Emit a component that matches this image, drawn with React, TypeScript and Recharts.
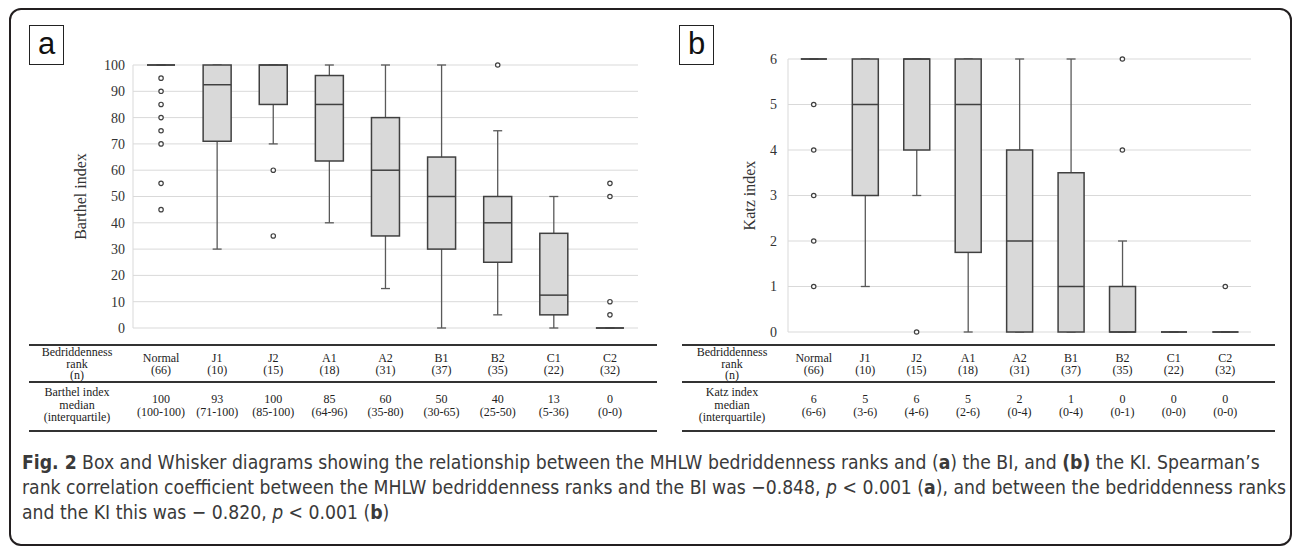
import { ComposedChart, Bar, Scatter, XAxis, YAxis, CartesianGrid } from "recharts";

const categories = ["Normal", "J1", "J2", "A1", "A2", "B1", "B2", "C1", "C2"];
const groupSizes = [66, 10, 15, 18, 31, 37, 35, 22, 32];

// Barthel index (panel a)
const biTicks = [0, 10, 20, 30, 40, 50, 60, 70, 80, 90, 100];
const biMin = [100, 30, 70, 40, 15, 0, 5, 0, 0];
const biQ1 = [100, 71, 85, 63.5, 35, 30, 25, 5, 0];
const biMedian = [100, 92.5, 100, 85, 60, 50, 40, 12.5, 0];
const biQ3 = [100, 100, 100, 96, 80, 65, 50, 36, 0];
const biMax = [100, 100, 100, 100, 100, 100, 75, 50, 0];
const biOutliers = [[95, 90, 85, 80, 75, 70, 55, 45], [], [60, 35], [], [], [], [100], [], [55, 50, 10, 5]];
const biMedianLabels = ["100", "93", "100", "85", "60", "50", "40", "13", "0"];
const biIqrLabels = ["100-100", "71-100", "85-100", "64-96", "35-80", "30-65", "25-50", "5-36", "0-0"];

// Katz index (panel b)
const kiTicks = [0, 1, 2, 3, 4, 5, 6];
const kiMin = [6, 1, 3, 0, 0, 0, 0, 0, 0];
const kiQ1 = [6, 3, 4, 1.75, 0, 0, 0, 0, 0];
const kiMedian = [6, 5, 6, 5, 2, 1, 0, 0, 0];
const kiQ3 = [6, 6, 6, 6, 4, 3.5, 1, 0, 0];
const kiMax = [6, 6, 6, 6, 6, 6, 2, 0, 0];
const kiOutliers = [[5, 4, 3, 2, 1], [], [0], [], [], [], [6, 4], [], [1]];
const kiMedianLabels = ["6", "5", "6", "5", "2", "1", "0", "0", "0"];
const kiIqrLabels = ["6-6", "3-6", "4-6", "2-6", "0-4", "0-4", "0-1", "0-0", "0-0"];

const SERIF = '"Liberation Serif", "Times New Roman", serif';
const GRID = "#d9d9d9";

const buildRows = (
  min: number[], q1: number[], med: number[], q3: number[], max: number[],
  outliers: number[][], medLabels: string[], iqrLabels: string[]
) =>
  categories.map((cat, i) => {
    const row: Record<string, any> = {
      cat,
      n: groupSizes[i],
      whisker: [min[i], max[i]],
      box: [q1[i], q3[i]],
      median: [med[i], med[i]],
      medLabel: medLabels[i],
      iqr: iqrLabels[i],
    };
    outliers[i].forEach((v, k) => (row[`o${k}`] = v));
    return row;
  });

const biRows = buildRows(biMin, biQ1, biMedian, biQ3, biMax, biOutliers, biMedianLabels, biIqrLabels);
const kiRows = buildRows(kiMin, kiQ1, kiMedian, kiQ3, kiMax, kiOutliers, kiMedianLabels, kiIqrLabels);

const WhiskerShape = (props: any) => {
  const { x, y, width, height } = props;
  const cx = x + width / 2;
  const top = Math.min(y, y + height);
  const bottom = Math.max(y, y + height);
  const cap = 4.5;
  return (
    <g stroke="#595959" strokeWidth={1.3}>
      <line x1={cx} x2={cx} y1={top} y2={bottom} />
      <line x1={cx - cap} x2={cx + cap} y1={top} y2={top} />
      <line x1={cx - cap} x2={cx + cap} y1={bottom} y2={bottom} />
    </g>
  );
};

const BoxShape = (props: any) => {
  const { x, y, width, height } = props;
  const top = Math.min(y, y + height);
  const h = Math.abs(height);
  if (h < 0.5) {
    return <line x1={x} x2={x + width} y1={top} y2={top} stroke="#404040" strokeWidth={1.5} />;
  }
  return <rect x={x} y={top} width={width} height={h} fill="#d9d9d9" stroke="#404040" strokeWidth={1.5} />;
};

const MedianShape = (props: any) => {
  const { x, y, width } = props;
  return <line x1={x} x2={x + width} y1={y} y2={y} stroke="#404040" strokeWidth={1.5} />;
};

const OutlierShape = (props: any) => {
  const { cx, cy } = props;
  if (!Number.isFinite(cx) || !Number.isFinite(cy)) return <g />;
  return <circle cx={cx} cy={cy} r={2.2} fill="#fff" stroke="#404040" strokeWidth={1.2} />;
};

// table columns drawn as x-axis ticks so they sit on the category centers
const TableTick = (props: any) => {
  const { x, payload, rows } = props;
  const row = rows.find((r: any) => r.cat === payload.value);
  if (!row) return null;
  return (
    <g fontFamily={SERIF} fontSize={12} fill="#222" textAnchor="middle">
      <text x={x} y={362}>{row.cat}</text>
      <text x={x} y={374}>({row.n})</text>
      <text x={x} y={403}>{row.medLabel}</text>
      <text x={x} y={416}>({row.iqr})</text>
    </g>
  );
};

const BoxChart = ({ rows, ticks, domain, label, width, margin, yWidth, tickMargin, outCount }: any) => (
  <ComposedChart width={width} height={440} data={rows} margin={margin} barCategoryGap="25%">
    <CartesianGrid vertical={false} stroke={GRID} xAxisId="box" />
    <XAxis xAxisId="whisker" dataKey="cat" hide />
    <XAxis xAxisId="median" dataKey="cat" hide />
    <XAxis
      xAxisId="box"
      dataKey="cat"
      height={100}
      axisLine={false}
      tickLine={false}
      tickSize={0}
      tickMargin={0}
      interval={0}
      tick={(p: any) => <TableTick {...p} rows={rows} />}
    />
    <YAxis
      domain={domain}
      ticks={ticks}
      interval={0}
      width={yWidth}
      axisLine={{ stroke: GRID }}
      tickLine={false}
      tickMargin={tickMargin}
      tick={{ fontFamily: SERIF, fontSize: 14, fill: "#333" }}
      label={{ value: label, angle: -90, position: "center", fontFamily: SERIF, fontSize: 16, fill: "#333" }}
    />
    <Bar xAxisId="whisker" dataKey="whisker" shape={<WhiskerShape />} isAnimationActive={false} />
    <Bar xAxisId="box" dataKey="box" shape={<BoxShape />} isAnimationActive={false} />
    <Bar xAxisId="median" dataKey="median" shape={<MedianShape />} isAnimationActive={false} />
    {Array.from({ length: outCount }, (_, k) => (
      <Scatter key={k} xAxisId="box" dataKey={`o${k}`} shape={<OutlierShape />} isAnimationActive={false} />
    ))}
  </ComposedChart>
);

const TableFrame = ({ left, right, rowLabel, labelX }: any) => {
  const line = (top: number) => (
    <div style={{ position: "absolute", left, width: right - left, top, height: 2, background: "#333" }} />
  );
  const txt: React.CSSProperties = {
    position: "absolute", left: labelX - 60, width: 120, textAlign: "center",
    fontFamily: SERIF, fontSize: 12, lineHeight: "11.5px", color: "#222",
  };
  return (
    <>
      {line(344)}
      {line(381)}
      {line(430)}
      <div style={{ ...txt, top: 347 }}>Bedriddenness<br />rank<br />(n)</div>
      <div style={{ ...txt, top: 386, lineHeight: "12.5px" }}>{rowLabel}<br />median<br />(interquartile)</div>
    </>
  );
};

const PanelTag = ({ left, text }: any) => (
  <div
    style={{
      position: "absolute", left, top: 25, width: 33, height: 38, border: "1px solid #222",
      fontFamily: '"Liberation Sans", Arial, sans-serif', fontSize: 31, lineHeight: "36px",
      textAlign: "center", color: "#111", background: "#fff",
    }}
  >
    {text}
  </div>
);

const captionStyle: React.CSSProperties = {
  position: "absolute", left: 22, whiteSpace: "nowrap",
  fontFamily: '"DejaVu Sans Condensed", sans-serif', fontSize: 19.2, color: "#3a3a3a",
};

export default function App() {
  return (
    <div style={{ position: "relative", width: 1292, height: 548, background: "#fff", overflow: "hidden" }}>
      <style>{`body{margin:0}`}</style>
      <div
        style={{
          position: "absolute", left: 9, top: 8, width: 1283, height: 538,
          border: "2px solid #231f20", borderRadius: 12, boxSizing: "border-box",
        }}
      />
      <div style={{ position: "absolute", left: 0, top: 0 }}>
        <BoxChart
          rows={biRows} ticks={biTicks} domain={[0, 100]} label="Barthel index" width={660}
          margin={{ top: 65, right: 22, bottom: 12, left: 27 }} yWidth={106} tickMargin={2} outCount={8}
        />
      </div>
      <div style={{ position: "absolute", left: 660, top: 0 }}>
        <BoxChart
          rows={kiRows} ticks={kiTicks} domain={[0, 6]} label="Katz index" width={632}
          margin={{ top: 59, right: 41, bottom: 8, left: 50 }} yWidth={78} tickMargin={5} outCount={5}
        />
      </div>
      <TableFrame left={29} right={657} rowLabel="Barthel index" labelX={77} />
      <TableFrame left={682} right={1275} rowLabel="Katz index" labelX={732} />
      <PanelTag left={29} text="a" />
      <PanelTag left={679} text="b" />
      <div style={{ ...captionStyle, top: 451 }}>
        <b>Fig. 2</b> Box and Whisker diagrams showing the relationship between the MHLW bedriddenness ranks and (<b>a</b>) the BI, and <b>(b)</b> the KI. Spearman’s
      </div>
      <div style={{ ...captionStyle, top: 476 }}>
        rank correlation coefficient between the MHLW bedriddenness ranks and the BI was −0.848, <i>p</i> &lt; 0.001 (<b>a</b>), and between the bedriddenness ranks
      </div>
      <div style={{ ...captionStyle, top: 501 }}>
        and the KI this was − 0.820, <i>p</i> &lt; 0.001 (<b>b</b>)
      </div>
    </div>
  );
}
